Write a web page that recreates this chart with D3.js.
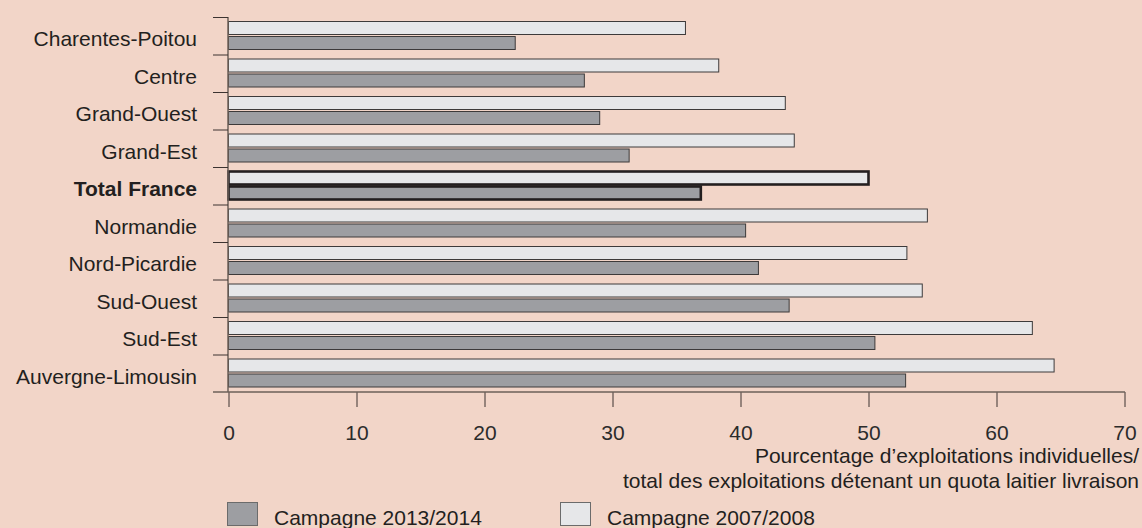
<!DOCTYPE html>
<html>
<head>
<meta charset="utf-8">
<script src="https://cdn.jsdelivr.net/npm/d3@7"></script>
<style>
    body { margin: 0; background: #f2d5c8; }
    svg { display: block; font-family: "Liberation Sans", Arial, sans-serif; }
</style>
</head>
<body>
<div id="chart"></div>
<script>
// Data
const regions = ["Charentes-Poitou", "Centre", "Grand-Ouest", "Grand-Est", "Total France",
    "Normandie", "Nord-Picardie", "Sud-Ouest", "Sud-Est", "Auvergne-Limousin"];
const values2007 = [35.7, 38.3, 43.5, 44.2, 50.0, 54.6, 53.0, 54.2, 62.8, 64.5];
const values2013 = [22.4, 27.8, 29.0, 31.3, 36.9, 40.4, 41.4, 43.8, 50.5, 52.9];
const seriesKeys = ["2007", "2013"];
const legendLabels = ["Campagne 2013/2014", "Campagne 2007/2008"];
const xTicks = [0, 10, 20, 30, 40, 50, 60, 70];
const axisTitle = ["Pourcentage d’exploitations individuelles/",
    "total des exploitations détenant un quota laitier livraison"];

const width = 1142, height = 528;
const totalRegion = "Total France";
const fills = { "2007": "#e6e7e9", "2013": "#9d9ea2" };

const svg = d3.select("#chart")
    .append("svg")
    .attr("width", width)
    .attr("height", height);

svg.append("rect")
    .attr("width", width)
    .attr("height", height)
    .attr("fill", "#f2d5c8");

const x = d3.scaleLinear()
    .domain([0, 70])
    .range([228.5, 1124.5]);

const y0 = d3.scaleBand()
    .domain(regions)
    .range([17, 392]);

const y1 = d3.scaleBand()
    .domain(seriesKeys)
    .range([0, y0.bandwidth()])
    .paddingInner(0.067)
    .paddingOuter(0.283);

const rows = regions.map((r, i) => ({ region: r, "2007": values2007[i], "2013": values2013[i] }));

// Bars
const groups = svg.selectAll("g.row")
    .data(rows)
    .enter()
    .append("g")
    .attr("class", "row")
    .attr("transform", d => `translate(0,${y0(d.region)})`);

groups.selectAll("rect")
    .data(d => seriesKeys.map(k => ({ key: k, value: d[k], total: d.region === totalRegion })))
    .enter()
    .append("rect")
    .attr("x", x(0))
    .attr("y", d => Math.round(y1(d.key)) + 0.5)
    .attr("width", d => x(d.value) - x(0))
    .attr("height", d => Math.round(y1.bandwidth()) - 1)
    .attr("fill", d => fills[d.key])
    .attr("stroke", d => d.total ? "#231f20" : "#3d3a3a")
    .attr("stroke-width", d => d.total ? 2.6 : 1);

// Y axis line and category ticks at band boundaries
svg.append("line")
    .attr("x1", 228).attr("x2", 228)
    .attr("y1", 17).attr("y2", 392)
    .attr("stroke", "#6d605a")
    .attr("stroke-width", 1.5);

const boundaries = regions.map(r => y0(r));
svg.selectAll("line.ytick")
    .data(boundaries)
    .enter()
    .append("line")
    .attr("class", "ytick")
    .attr("x1", 213).attr("x2", 228)
    .attr("y1", d => d + 0.5).attr("y2", d => d + 0.5)
    .attr("stroke", "#3c3330")
    .attr("stroke-width", 1);

// Category labels
svg.selectAll("text.cat")
    .data(regions)
    .enter()
    .append("text")
    .attr("class", "cat")
    .attr("x", 197)
    .attr("y", d => y0(d) + y0.bandwidth() / 2 + 3)
    .attr("dy", "0.35em")
    .attr("text-anchor", "end")
    .style("font-size", "21px")
    .style("font-weight", d => d === totalRegion ? "bold" : "normal")
    .attr("fill", "#231f20")
    .text(d => d);

// X axis
const xAxis = svg.append("g")
    .attr("transform", "translate(0,392)")
    .call(d3.axisBottom(x).tickValues(xTicks).tickSize(15).tickPadding(18).tickSizeOuter(0));

xAxis.select(".domain").remove();
xAxis.selectAll(".tick line").attr("stroke", "#3c3330");
xAxis.selectAll(".tick text")
    .style("font-size", "21px")
    .style("font-family", "'Liberation Sans', Arial, sans-serif")
    .attr("fill", "#2b2b2b");

svg.append("line")
    .attr("x1", 213).attr("x2", 1125)
    .attr("y1", 392).attr("y2", 392)
    .attr("stroke", "#6d605a")
    .attr("stroke-width", 1.5);

// Axis title, right aligned
svg.selectAll("text.xtitle")
    .data(axisTitle)
    .enter()
    .append("text")
    .attr("class", "xtitle")
    .attr("x", 1139)
    .attr("y", (d, i) => 463 + i * 24.5)
    .attr("text-anchor", "end")
    .style("font-size", "21px")
    .attr("fill", "#231f20")
    .text(d => d);

// Legend
const legendData = [
    { label: legendLabels[0], fill: fills["2013"], x: 227 },
    { label: legendLabels[1], fill: fills["2007"], x: 560 }
];

const legend = svg.selectAll("g.legend")
    .data(legendData)
    .enter()
    .append("g")
    .attr("class", "legend")
    .attr("transform", d => `translate(${d.x},502)`);

legend.append("rect")
    .attr("x", 0.5)
    .attr("y", 0.5)
    .attr("width", 30)
    .attr("height", 23)
    .attr("fill", d => d.fill)
    .attr("stroke", "#6b6b6b")
    .attr("stroke-width", 1);

legend.append("text")
    .attr("x", 47)
    .attr("y", 23)
    .style("font-size", "21px")
    .attr("fill", "#231f20")
    .text(d => d.label);
</script>
</body>
</html>
